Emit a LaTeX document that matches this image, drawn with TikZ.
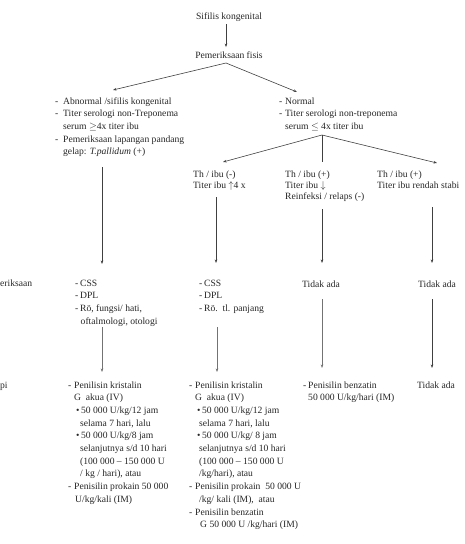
\documentclass[tikz,border=0pt]{standalone}
\usepackage{fontspec}
\setmainfont{Liberation Serif}
\usetikzlibrary{arrows.meta}
\newcommand{\blk}[1]{\begin{tabular}[t]{@{}l@{}}#1\end{tabular}}
\newcommand{\mydash}[1]{\makebox[#1][l]{-}}
\newcommand{\myind}[1]{\hspace*{#1}}
\newcommand{\mybul}[1]{\makebox[#1][l]{\textbullet}}
\begin{document}
\begin{tikzpicture}[x=1pt,y=-1pt,
  >={Stealth[length=3.5pt,width=2.6pt]},
  txt/.style={inner sep=0pt, font=\fontsize{9.6}{12.7}\selectfont, text=black!85},
  tl/.style={txt, anchor=base west},
  tc/.style={txt, anchor=base},
  tight/.style={font=\fontsize{9.6}{11}\selectfont},
  conn/.style={draw=black!75, line width=0.6pt},
  connl/.style={draw=black!55, line width=0.7pt},
  arr/.style={conn, ->},
  arrl/.style={connl, ->}]
\useasboundingbox (0,0) rectangle (465,544);

% --- top
\node[tc] (sk) at (229,19) {Sifilis kongenital};
\node[tc] (pf) at (229,58) {Pemeriksaan fisis};

% --- second level
\node[tl] (A) at (55,104) {\blk{%
 \mydash{8pt}Abnormal /sifilis kongenital\\
 \mydash{8pt}Titer serologi non-Treponema\\
 \myind{8pt}serum $\geq$4x titer ibu\\
 \mydash{8pt}Pemeriksaan lapangan pandang\\
 \myind{8pt}gelap: \textit{T.pallidum} (+)}};
\node[tl] (B) at (279,104) {\blk{%
 \mydash{6pt}Normal\\
 \mydash{6pt}Titer serologi non-treponema\\
 \myind{6pt}serum $\leq$ 4x titer ibu}};

% --- third level
\node[tl,tight] (C) at (193,177) {\blk{Th / ibu (-)\\ Titer ibu $\uparrow$4 x}};
\node[tl,tight] (D) at (285,177) {\blk{Th / ibu (+)\\ Titer ibu $\downarrow$\\ Reinfeksi / relaps (-)}};
\node[tl,tight] (E) at (377,177) {\blk{Th / ibu (+)\\ Titer ibu rendah stabi}};

% --- examinations row
\node[tl] (pm) at (0,286) {eriksaan};
\node[tl] (F) at (75,286) {\blk{%
 \mydash{5pt}CSS\\
 \mydash{5pt}DPL\\
 \mydash{5pt}Rö, fungsi/ hati,\\
 \myind{5.5pt}oftalmologi, otologi}};
\node[tl] (G) at (199,286) {\blk{%
 \mydash{5pt}CSS\\
 \mydash{5pt}DPL\\
 \mydash{5pt}Rö.\ \ tl. panjang}};
\node[tc] (T1) at (321,287) {Tidak ada};
\node[tc] (T2) at (437,287) {Tidak ada};

% --- therapy row
\node[tl] (tp) at (0,388) {pi};
\node[tl] (H) at (68,388) {\blk{%
 \mydash{6pt}Penilisin kristalin\\
 \myind{6pt}G\ \ akua (IV)\\
 \myind{8pt}\mybul{5pt}50 000 U/kg/12 jam\\
 \myind{12pt}selama 7 hari, lalu\\
 \myind{8pt}\mybul{5pt}50 000 U/kg/8 jam\\
 \myind{12pt}selanjutnya s/d 10 hari\\
 \myind{12pt}(100 000 – 150 000 U\\
 \myind{12pt}/ kg / hari), atau\\
 \mydash{6pt}Penisilin prokain 50 000\\
 \myind{7pt}U/kg/kali (IM)}};
\node[tl] (I) at (189,388) {\blk{%
 \mydash{6pt}Penilisin kristalin\\
 \myind{6pt}G\ \ akua (IV)\\
 \myind{8pt}\mybul{5pt}50 000 U/kg/12 jam\\
 \myind{10pt}selama 7 hari, lalu\\
 \myind{8pt}\mybul{5pt}50 000 U/kg/ 8 jam\\
 \myind{10pt}selanjutnya s/d 10 hari\\
 \myind{10pt}(100 000 – 150 000 U\\
 \myind{10pt}/kg/hari), atau\\
 \mydash{6pt}Penisilin prokain\ \ 50 000 U\\
 \myind{10pt}/kg/ kali (IM),\ \ atau\\
 \mydash{6pt}Penisilin benzatin\\
 \myind{11pt}G 50 000 U /kg/hari (IM)}};
\node[tl] (J) at (303,388) {\blk{%
 \mydash{5pt}Penisilin benzatin\\
 \myind{5pt}50 000 U/kg/hari (IM)}};
\node[tc] (T3) at (436,388) {Tidak ada};

% --- connector end points
\coordinate (pfOut) at (226,63);
\coordinate (Ain) at (113,90);
\coordinate (Bin) at (297,92);
\coordinate (Bout) at (322,135);
\coordinate (Cin) at (223,162);
\coordinate (Din) at (322,162);
\coordinate (Ein) at (437,163);
\coordinate (Aout) at (102,167);
\coordinate (Cout) at (216,197);
\coordinate (Dout) at (322,209);
\coordinate (Eout) at (432,207);
\coordinate (Fin) at (102,264);
\coordinate (Gin) at (216,263);
\coordinate (T1in) at (322,263);
\coordinate (T2in) at (432,263);
\coordinate (Fout) at (102,327);
\coordinate (Gout) at (217,327);
\coordinate (T1out) at (322,299);
\coordinate (T2out) at (432,299);
\coordinate (Hin) at (102,372);
\coordinate (Iin) at (217,372);
\coordinate (Jin) at (322,368);
\coordinate (T3in) at (432,368);

% --- connectors
\draw[arr] ([yshift=-3pt]sk.south -| pfOut) -- ([yshift=4pt]pf.north -| pfOut);
\draw[arr] (pfOut) -- (Ain);
\draw[arr] (pfOut) -- (Bin);
\draw[arr] (Bout) -- (Cin);
\draw[conn] (Bout) -- (Din);
\draw[arr] (Bout) -- (Ein);
\draw[arr] (Aout) -- (Fin);
\draw[arr] (Cout) -- (Gin);
\draw[arr] (Dout) -- (T1in);
\draw[arr] (Eout) -- (T2in);
\draw[arrl] (Fout) -- (Hin);
\draw[arrl] (Gout) -- (Iin);
\draw[arrl] (T1out) -- (Jin);
\draw[arr] (T2out) -- (T3in);
\end{tikzpicture}
\end{document}
